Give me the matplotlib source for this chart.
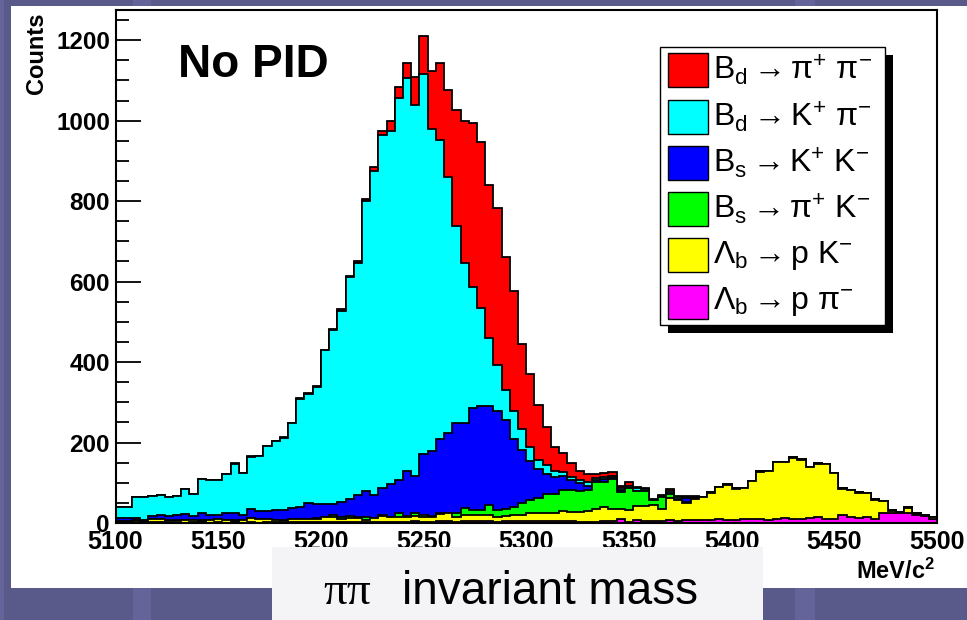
import numpy as np
import matplotlib.pyplot as plt
from matplotlib.patches import Rectangle

plt.rcParams['font.family'] = ['Liberation Sans', 'DejaVu Sans']
plt.rcParams['mathtext.fontset'] = 'custom'
plt.rcParams['mathtext.rm'] = 'Liberation Sans'
plt.rcParams['mathtext.it'] = 'Liberation Sans:italic'
plt.rcParams['mathtext.bf'] = 'Liberation Sans:bold'

# 100 bins of 4 MeV/c^2 between 5100 and 5500
edges = np.linspace(5100, 5500, 101)

bd_pipi = [0, 0, 0, 0, 0, 0, 0, 0, 0, 0, 0, 0, 0, 0, 1, 0, 1, 0, 1, 1,
           1, 1, 2, 2, 2, 2, 3, 4, 3, 6, 6, 10, 10, 26, 27, 39, 69, 95, 145, 192,
           216, 288, 355, 407, 413, 381, 390, 332, 299, 213, 180, 136, 96, 62, 46, 35, 22, 20, 8, 9,
           8, 6, 9, 4, 4, 2, 3, 5, 4, 2, 1, 0, 0, 0, 0, 0, 0, 0, 0, 0,
           0, 0, 0, 0, 0, 0, 0, 0, 0, 0, 0, 0, 0, 0, 0, 0, 0, 0, 0, 0]
bd_kpi = [28, 29, 52, 57, 50, 48, 47, 47, 62, 54, 85, 86, 87, 96, 121, 103, 129, 136, 161, 171,
          180, 210, 268, 271, 291, 382, 431, 476, 552, 576, 720, 806, 878, 877, 949, 976, 923, 945, 799, 742,
          636, 489, 397, 300, 244, 167, 113, 74, 68, 52, 36, 24, 20, 13, 11, 9, 8, 8, 5, 6,
          4, 4, 4, 6, 4, 1, 1, 5, 4, 2, 2, 0, 0, 0, 0, 0, 0, 0, 0, 0,
          0, 0, 0, 0, 0, 0, 0, 0, 0, 0, 0, 0, 0, 0, 0, 0, 0, 0, 0, 0]
bs_kk = [8, 8, 6, 3, 7, 11, 10, 13, 14, 10, 17, 13, 11, 18, 19, 13, 23, 20, 20, 24,
         25, 28, 31, 39, 35, 32, 28, 36, 43, 54, 64, 56, 65, 81, 81, 112, 92, 151, 162, 186,
         199, 223, 210, 255, 258, 247, 247, 220, 170, 131, 97, 72, 51, 42, 34, 24, 20, 11, 7, 7,
         5, 4, 0, 1, 1, 1, 1, 2, 2, 11, 1, 0, 0, 0, 0, 0, 0, 0, 0, 0,
         0, 0, 0, 0, 0, 0, 0, 0, 0, 0, 0, 0, 0, 0, 0, 0, 0, 0, 0, 0]
bs_pik = [1, 1, 1, 1, 1, 1, 1, 1, 1, 1, 1, 1, 1, 1, 1, 1, 1, 0, 1, 1,
          1, 1, 1, 1, 1, 1, 5, 7, 4, 2, 9, 1, 3, 1, 10, 3, 8, 6, 2, 2,
          1, 11, 18, 12, 13, 24, 17, 18, 19, 30, 33, 35, 46, 47, 51, 55, 52, 51, 65, 63,
          73, 43, 56, 37, 37, 12, 28, 12, 2, 2, 2, 1, 1, 1, 1, 1, 1, 1, 1, 1,
          1, 1, 1, 1, 1, 1, 1, 1, 1, 1, 1, 1, 1, 1, 1, 1, 1, 1, 1, 0]
lb_pk = [2, 2, 5, 2, 7, 7, 5, 5, 6, 5, 4, 6, 7, 6, 3, 6, 10, 9, 7, 5,
         5, 7, 7, 7, 9, 11, 13, 7, 10, 10, 5, 10, 15, 12, 13, 11, 13, 11, 12, 18,
         19, 12, 15, 16, 15, 16, 12, 14, 16, 16, 20, 21, 21, 22, 26, 22, 25, 28, 33, 34,
         31, 26, 29, 35, 36, 39, 31, 54, 50, 42, 53, 57, 68, 80, 87, 77, 77, 95, 117, 120,
         141, 139, 152, 146, 127, 133, 135, 114, 66, 66, 63, 59, 47, 30, 5, 2, 14, 3, 3, 4]
lb_ppi = [1, 1, 1, 1, 2, 2, 1, 1, 1, 2, 2, 1, 2, 1, 3, 1, 2, 1, 2, 2,
          1, 2, 2, 2, 2, 3, 2, 2, 3, 3, 2, 2, 3, 3, 3, 3, 4, 3, 3, 4,
          5, 3, 5, 4, 4, 5, 3, 4, 5, 4, 4, 5, 5, 4, 5, 5, 3, 3, 3, 5,
          5, 9, 3, 7, 6, 5, 5, 7, 6, 7, 7, 7, 7, 9, 8, 8, 10, 9, 10, 8,
          10, 12, 10, 11, 12, 14, 11, 10, 19, 15, 12, 15, 11, 24, 26, 25, 24, 20, 17, 11]

# bottom to top of the stack
components = [lb_ppi, lb_pk, bs_pik, bs_kk, bd_kpi, bd_pipi]
colors = ['#ff00ff', '#ffff00', '#00ff00', '#0000ff', '#00ffff', '#ff0000']
legend_labels = [r'$\mathrm{B_d} \rightarrow \mathrm{\pi^{+}\ \pi^{-}}$',
                 r'$\mathrm{B_d} \rightarrow \mathrm{K^{+}\ \pi^{-}}$',
                 r'$\mathrm{B_s} \rightarrow \mathrm{K^{+}\ K^{-}}$',
                 r'$\mathrm{B_s} \rightarrow \mathrm{\pi^{+}\ K^{-}}$',
                 r'$\mathrm{\Lambda_b} \rightarrow \mathrm{p\ K^{-}}$',
                 r'$\mathrm{\Lambda_b} \rightarrow \mathrm{p\ \pi^{-}}$']
legend_colors = ['#ff0000', '#00ffff', '#0000ff', '#00ff00', '#ffff00', '#ff00ff']

W, H = 967, 620
fig = plt.figure(figsize=(W / 100, H / 100), dpi=100)
fig.patch.set_facecolor('#5a5a8a')


def fx(x):
    return x / W


def fy(y):
    return 1 - y / H


# faint slide stripes
for x0, w in [(0, 4), (133, 18), (795, 20)]:
    fig.patches.append(Rectangle((fx(x0), 0), w / W, 1, transform=fig.transFigure,
                                 facecolor='#64649a', edgecolor='none', zorder=0))

# white canvas
fig.patches.append(Rectangle((fx(11), fy(588)), (W - 11) / W, (588 - 6) / H,
                             transform=fig.transFigure, facecolor='white',
                             edgecolor='none', zorder=0.5))

ax = fig.add_axes([fx(115.5), fy(523), (937 - 115.5) / W, (523 - 10) / H])
ax.set_zorder(2)
ax.set_facecolor('white')

cum = np.cumsum(np.array(components), axis=0)
for level in range(len(components) - 1, -1, -1):
    ax.stairs(cum[level], edges, fill=True, facecolor=colors[level],
              edgecolor='black', linewidth=1.3, baseline=0)

ax.set_xlim(5100, 5500)
ax.set_ylim(0, 1275)
ax.set_yticks(np.arange(0, 1201, 200))
ax.set_yticks(np.arange(0, 1276, 50), minor=True)
ax.set_xticks(np.arange(5100, 5501, 50))
ax.tick_params(axis='y', which='major', direction='in', length=18, width=1.3,
               labelsize=17.5, pad=4)
ax.tick_params(axis='y', which='minor', direction='in', length=9.5, width=1.3)
ax.tick_params(axis='x', length=0, labelsize=18, pad=5)
for lab in ax.get_xticklabels() + ax.get_yticklabels():
    lab.set_fontweight('bold')
for sp in ax.spines.values():
    sp.set_linewidth(1.5)
    sp.set_zorder(5)

fig.text(fx(37), fy(12), 'Counts', rotation=90, ha='center', va='top',
         fontsize=17, fontweight='bold')
fig.text(fx(935), fy(579), r'MeV/c$^{\mathbf{2}}$', ha='right', va='baseline',
         fontsize=17, fontweight='bold')
fig.text(fx(178), fy(77), 'No PID', ha='left', va='baseline',
         fontsize=33, fontweight='bold', zorder=6)

# legend with drop shadow
lx0, ly0, lx1, ly1 = 660, 47, 885, 325
fig.patches.append(Rectangle((fx(lx0 + 8), fy(ly1 + 8)), (lx1 - lx0) / W, (ly1 - ly0) / H,
                             transform=fig.transFigure, facecolor='black',
                             edgecolor='none', zorder=6))
fig.patches.append(Rectangle((fx(lx0), fy(ly1)), (lx1 - lx0) / W, (ly1 - ly0) / H,
                             transform=fig.transFigure, facecolor='white',
                             edgecolor='black', linewidth=1, zorder=7))
row = (ly1 - ly0) / len(legend_labels)
for i, (lab, col) in enumerate(zip(legend_labels, legend_colors)):
    cy = ly0 + row * (i + 0.5)
    fig.patches.append(Rectangle((fx(668), fy(cy + 17)), 40 / W, 34 / H,
                                 transform=fig.transFigure, facecolor=col,
                                 edgecolor='black', linewidth=1, zorder=8))
    fig.text(fx(713), fy(cy), lab, ha='left', va='center', fontsize=23, zorder=9)

# caption box under the plot
fig.patches.append(Rectangle((fx(272), 0), (763 - 272) / W, (620 - 547) / H,
                             transform=fig.transFigure, facecolor='#f4f4f6',
                             edgecolor='none', zorder=10))
fig.text(fx(323), fy(604), 'ππ', family=['Liberation Serif'], fontsize=34,
         ha='left', va='baseline', zorder=11)
fig.text(fx(402), fy(604), 'invariant mass', fontsize=33,
         ha='left', va='baseline', zorder=11)

fig.savefig('out.png', dpi=100, facecolor=fig.get_facecolor())
